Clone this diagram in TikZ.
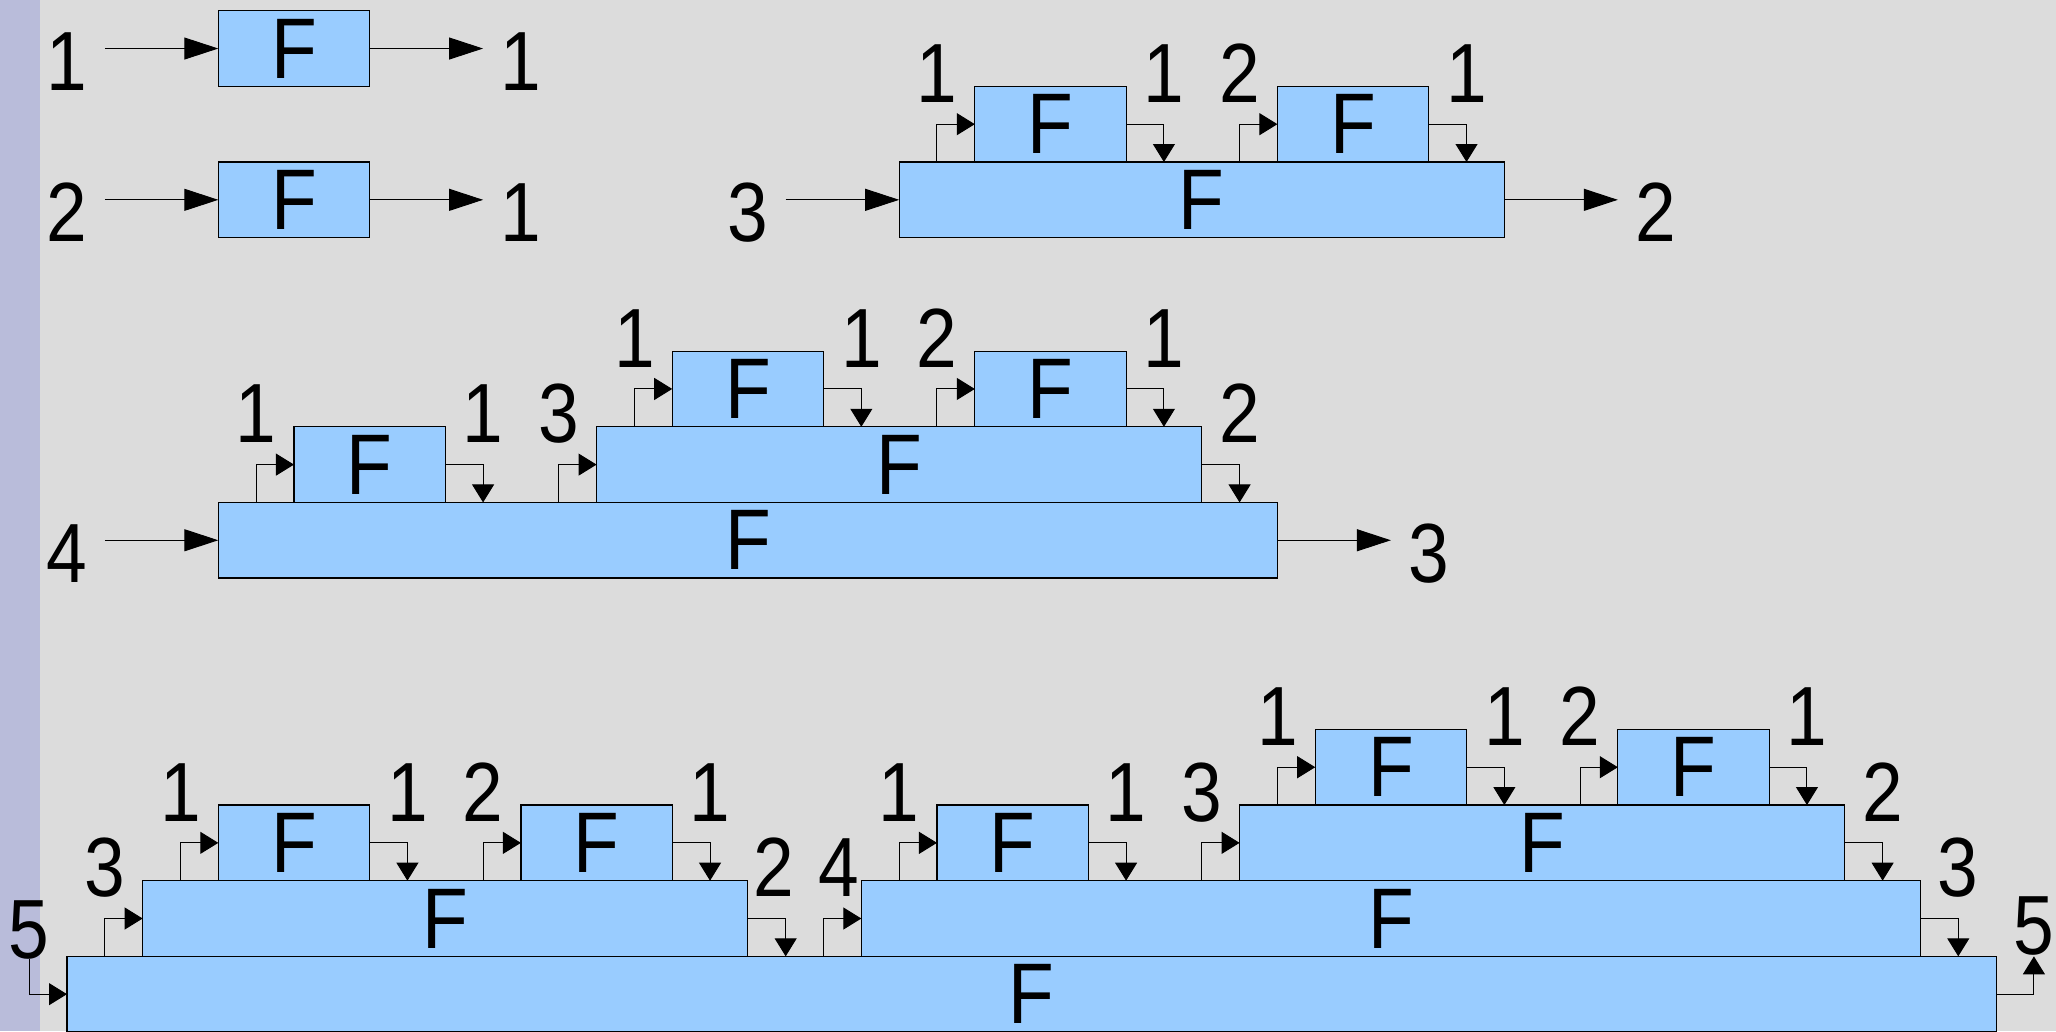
\documentclass[tikz,border=0pt]{standalone}
\usepackage{fontspec}
\newfontfamily\lblfont[FakeStretch=0.87]{Liberation Sans}
\usetikzlibrary{arrows.meta}
\definecolor{bgcol}{HTML}{DCDCDC}
\definecolor{sidecol}{HTML}{B9BCDA}
\definecolor{boxfill}{HTML}{99CCFF}
\begin{document}
\begin{tikzpicture}[x=75.65pt,y=-75.65pt,
  fbox/.style={draw=black, fill=boxfill, line width=1.2pt, outer sep=0pt, inner sep=0pt,
    minimum height=75.65pt, anchor=north west, font=\lblfont\fontsize{86}{86}\selectfont},
  wd/.style={minimum width=#1*75.65pt},
  conn/.style={draw=black, line width=1pt},
  bigarr/.style={-{Triangle[length=34pt,width=22pt]}},
  smallarr/.style={-{Triangle[length=18pt,width=22pt]}},
  lbl/.style={anchor=base, inner sep=0pt, font=\lblfont\fontsize{84}{84}\selectfont}]
\useasboundingbox (-0.8857,-0.14144) rectangle (26.2921,13.4871);
\fill[bgcol] (-0.8857,-0.14144) rectangle (26.2921,13.4871);
\fill[sidecol] (-0.8857,-0.14144) rectangle (-0.3569,13.4871);

% top-left
\node[fbox,wd=2] (tA) at (2,0) {F};
\node[fbox,wd=2] (tB) at (2,2) {F};
% top-right
\node[fbox,wd=8] (rB) at (11,2) {F};
\node[fbox,wd=2] (rS1) at (12,1) {F};
\node[fbox,wd=2] (rS2) at (16,1) {F};
% middle
\node[fbox,wd=14] (mB) at (2,6.5) {F};
\node[fbox,wd=2] (mS) at (3,5.5) {F};
\node[fbox,wd=8] (mM) at (7,5.5) {F};
\node[fbox,wd=2] (mT1) at (8,4.5) {F};
\node[fbox,wd=2] (mT2) at (12,4.5) {F};
% bottom
\node[fbox,wd=25.5] (bB) at (0,12.5) {F};
\node[fbox,wd=8] (bA) at (1,11.5) {F};
\node[fbox,wd=2] (bA1) at (2,10.5) {F};
\node[fbox,wd=2] (bA2) at (6,10.5) {F};
\node[fbox,wd=14] (bC) at (10.5,11.5) {F};
\node[fbox,wd=2] (bC1) at (11.5,10.5) {F};
\node[fbox,wd=8] (bC2) at (15.5,10.5) {F};
\node[fbox,wd=2] (bD1) at (16.5,9.5) {F};
\node[fbox,wd=2] (bD2) at (20.5,9.5) {F};

% root boxes: straight input / output arrows
\foreach \r/\a/\b in {tA/1/1, tB/2/1, rB/3/2, mB/4/3} {
  \coordinate (\r-s) at ([xshift=-113.475pt]\r.west);
  \coordinate (\r-e) at ([xshift=113.475pt]\r.east);
  \draw[conn,bigarr] (\r-s) -- (\r.west);
  \draw[conn,bigarr] (\r.east) -- (\r-e);
  \node[lbl] (\r-il) at ([xshift=-37.825pt,yshift=-42pt]\r-s) {\a};
  \node[lbl] (\r-ol) at ([xshift=37.825pt,yshift=-42pt]\r-e) {\b};
}

% nested boxes: stepped connectors
\foreach \c/\a/\b/\da/\db in {rS1/1/1/0pt/0pt, rS2/2/1/0pt/0pt, mS/1/1/0pt/0pt, mM/3/2/0pt/0pt,
    mT1/1/1/0pt/0pt, mT2/2/1/0pt/0pt, bA/3/2/0pt/-12pt, bA1/1/1/0pt/0pt, bA2/2/1/0pt/0pt,
    bC/4/3/15pt/0pt, bC1/1/1/0pt/0pt, bC2/3/2/0pt/0pt, bD1/1/1/0pt/0pt, bD2/2/1/0pt/0pt} {
  \coordinate (\c-s) at ([xshift=-37.825pt]\c.south west);
  \coordinate (\c-e) at ([xshift=37.825pt]\c.south east);
  \draw[conn,smallarr] (\c-s) |- (\c.west);
  \draw[conn,smallarr] (\c.east) -| (\c-e);
  \node[lbl,xshift=\da] (\c-il) at ([xshift=-37.825pt,yshift=-16pt]\c.north west) {\a};
  \node[lbl,xshift=\db] (\c-ol) at ([xshift=37.825pt,yshift=-16pt]\c.north east) {\b};
}

% outermost bottom box
\coordinate (bB-s) at (-0.5,12.54);
\coordinate (bB-e) at (26.0,12.5);
\draw[conn,smallarr] (bB-s) |- (bB.west);
\draw[conn,smallarr] (bB.east) -| (bB-e);
\node[lbl] (bB-il) at (-0.5,12.535) {5};
\node[lbl] (bB-ol) at (26.0,12.48) {5};
\end{tikzpicture}
\end{document}
